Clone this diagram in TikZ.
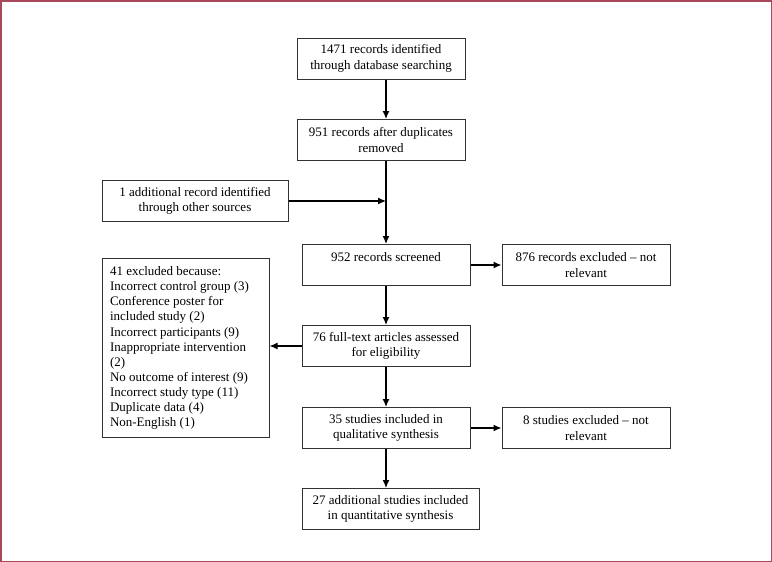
\documentclass[tikz,border=0pt]{standalone}
\usepackage{fontspec}
\setmainfont{Liberation Serif}
\definecolor{framered}{RGB}{168,72,92}
\definecolor{boxgray}{RGB}{50,50,50}
\usetikzlibrary{arrows.meta,calc}

\begin{document}
\begin{tikzpicture}[
  x=1pt,y=-1pt,
  every node/.style={font=\fontsize{13}{15.6}\selectfont},
  flowbox/.style={draw=boxgray,line width=1pt,minimum width=168pt,minimum height=41pt,
                  align=center,inner sep=3pt},
  flowarrow/.style={-{Latex[length=8pt,width=7pt]},line width=1.2pt,black},
]
  % Frame
  \draw[framered,line width=1.5pt,fill=white] (0.75,0.75) rectangle (771.25,561.25);

  % Identification
  \node[flowbox] (ident) at (381,58.5) {1471 records identified\\through database searching};
  \node[flowbox] (dedup) at (381,140) {951 records after duplicates\\removed};
  \node[flowbox,minimum width=186pt] (other) at (195,201) {1 additional record identified\\through other sources};

  % Screening
  \node[flowbox] (screen) at (386,265) {952 records screened\\\mbox{}};
  \node[flowbox] (notrel) at (586,265) {876 records excluded -- not\\relevant};

  % Eligibility
  \node[flowbox] (fulltext) at (386,346) {76 full-text articles assessed\\for eligibility};
  \node[draw=boxgray,line width=1pt,minimum width=167pt,minimum height=178pt,
        font=\fontsize{13}{15.1}\selectfont,
        text width=151pt,align=flush left,inner sep=8pt] (reasons) at (185.5,348) {%
    41 excluded because:\\
    Incorrect control group (3)\\
    Conference poster for\\
    included study (2)\\
    Incorrect participants (9)\\
    Inappropriate intervention\\
    (2)\\
    No outcome of interest (9)\\
    Incorrect study type (11)\\
    Duplicate data (4)\\
    Non-English (1)%
  };

  % Included
  \node[flowbox] (quali) at (386,428) {35 studies included in\\qualitative synthesis};
  \node[flowbox] (studex) at (586,428) {8 studies excluded -- not\\relevant};
  \node[flowbox,minimum width=177pt] (quanti) at (390.5,509) {27 additional studies included\\in quantitative synthesis};

  % Arrows
  \draw[flowarrow] (ident.south -| screen) -- (dedup.north -| screen);
  \draw[flowarrow] (dedup.south -| screen) -- (screen);
  \draw[flowarrow] (other) -- (other -| screen);
  \draw[flowarrow] (screen) -- (notrel);
  \draw[flowarrow] (screen) -- (fulltext);
  \draw[flowarrow] (fulltext.west) -- (fulltext.west -| reasons.east);
  \draw[flowarrow] (fulltext) -- (quali);
  \draw[flowarrow] (quali) -- (studex);
  \draw[flowarrow] (quali) -- (quanti.north -| quali);
\end{tikzpicture}
\end{document}
